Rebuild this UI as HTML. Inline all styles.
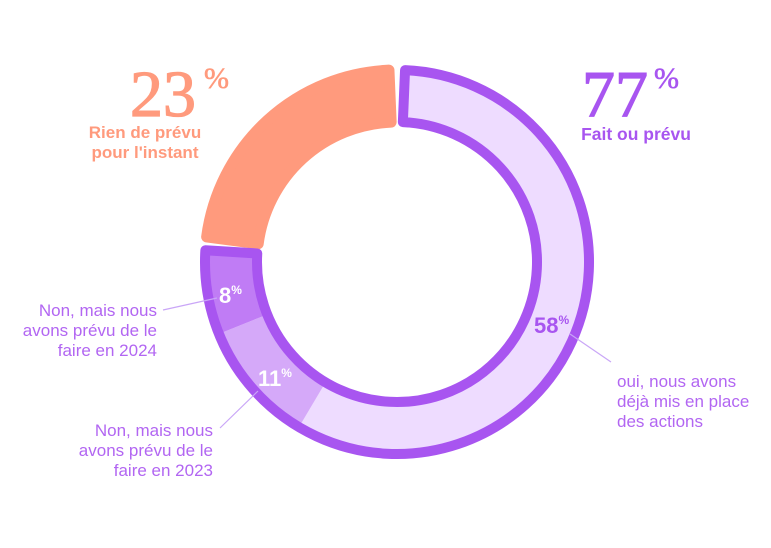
<!DOCTYPE html>
<html><head><meta charset="utf-8"><style>
html,body{margin:0;padding:0;background:#fff}
svg{display:block}
.m{font-family:"Liberation Sans",sans-serif}
</style></head><body>
<svg id="s" width="771" height="548" viewBox="0 0 771 548" xmlns="http://www.w3.org/2000/svg">
<g id="g"></g>
<line x1="163" y1="310" x2="217" y2="298" stroke="#c9a6f7" stroke-width="1.2"/>
<line x1="220" y1="428" x2="258" y2="391" stroke="#c9a6f7" stroke-width="1.2"/>
<line x1="570" y1="334" x2="611" y2="362" stroke="#c9a6f7" stroke-width="1.2"/>
<text x="130" y="116" font-family="Liberation Serif,serif" font-size="66" fill="#ff9a7d" stroke="#ff9a7d" stroke-width="1.2">23</text>
<text x="204" y="88" font-family="Liberation Serif,serif" font-size="30" fill="#ff9a7d" stroke="#ff9a7d" stroke-width="0.6">%</text>
<text x="145" y="138" text-anchor="middle" class="m" font-weight="bold" font-size="17" fill="#ff9a7d">Rien de prévu</text>
<text x="145" y="158" text-anchor="middle" class="m" font-weight="bold" font-size="17" fill="#ff9a7d">pour l'instant</text>
<text x="582" y="116" font-family="Liberation Serif,serif" font-size="66" fill="#a855f0" stroke="#a855f0" stroke-width="1.2">77</text>
<text x="654" y="88" font-family="Liberation Serif,serif" font-size="30" fill="#a855f0" stroke="#a855f0" stroke-width="0.6">%</text>
<text x="636" y="140" text-anchor="middle" class="m" font-weight="bold" font-size="17.5" fill="#a855f0">Fait ou prévu</text>
<g class="m" font-size="17" fill="#b266f2" text-anchor="end">
<text x="157" y="316">Non, mais nous</text>
<text x="157" y="336">avons prévu de le</text>
<text x="157" y="356">faire en 2024</text>
<text x="213" y="436">Non, mais nous</text>
<text x="213" y="456">avons prévu de le</text>
<text x="213" y="476">faire en 2023</text>
</g>
<g class="m" font-size="17" fill="#b266f2">
<text x="617" y="387">oui, nous avons</text>
<text x="617" y="407">déjà mis en place</text>
<text x="617" y="427">des actions</text>
</g>
<g class="m" font-weight="bold">
<text x="219" y="303" font-size="22" fill="#fff">8<tspan font-size="12" dy="-9">%</tspan></text>
<text x="258" y="386" font-size="22" fill="#fff">11<tspan font-size="12" dy="-9">%</tspan></text>
<text x="534" y="333" font-size="22" fill="#a855f0">58<tspan font-size="12" dy="-9">%</tspan></text>
</g>
</svg>
<script>
var cx=397,cy=262;
function P(r,a){a=a*Math.PI/180;return [(cx+r*Math.sin(a)).toFixed(2),(cy-r*Math.cos(a)).toFixed(2)];}
function sec(ro,ri,a0,a1){var p1=P(ro,a0),p2=P(ro,a1),p3=P(ri,a1),p4=P(ri,a0),l=(a1-a0)>180?1:0;
return "M"+p1+" A"+ro+","+ro+" 0 "+l+" 1 "+p2+" L"+p3+" A"+ri+","+ri+" 0 "+l+" 0 "+p4+"Z";}
var g=document.getElementById("g"),h="";
h+='<path d="'+sec(192,140,277.5,357.6)+'" fill="#ff9a7d" stroke="#ff9a7d" stroke-width="11" stroke-linejoin="round"/>';
h+='<path d="'+sec(192,140,2.4,210.7)+'" fill="#eedcff"/>';
h+='<path d="'+sec(192,140,210.7,248)+'" fill="#d5a9f9"/>';
h+='<path d="'+sec(192,140,248,273.5)+'" fill="#c07cf5"/>';
h+='<path d="'+sec(192,140,2.4,273.5)+'" fill="none" stroke="#a855f0" stroke-width="10" stroke-linejoin="round"/>';
g.innerHTML=h;
</script>
</body></html>
